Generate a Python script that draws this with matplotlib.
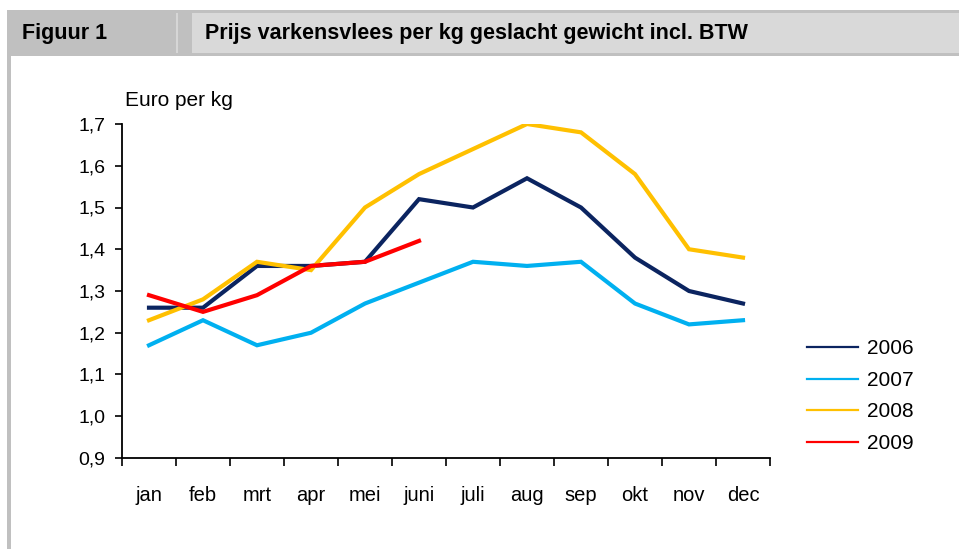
import matplotlib
matplotlib.use("Agg")
import matplotlib.pyplot as plt
from matplotlib.patches import Rectangle
import numpy as np

months = ["jan", "feb", "mrt", "apr", "mei", "juni", "juli", "aug", "sep", "okt", "nov", "dec"]
v2006 = [1.26, 1.26, 1.36, 1.36, 1.37, 1.52, 1.50, 1.57, 1.50, 1.38, 1.30, 1.27]
v2007 = [1.17, 1.23, 1.17, 1.20, 1.27, 1.32, 1.37, 1.36, 1.37, 1.27, 1.22, 1.23]
v2008 = [1.23, 1.28, 1.37, 1.35, 1.50, 1.58, 1.64, 1.70, 1.68, 1.58, 1.40, 1.38]
v2009 = [1.29, 1.25, 1.29, 1.36, 1.37, 1.42]
series = [("2006", v2006, "#0b2460"), ("2007", v2007, "#00b0f0"),
          ("2008", v2008, "#ffc000"), ("2009", v2009, "#ff0000")]
yticks = [0.9, 1.0, 1.1, 1.2, 1.3, 1.4, 1.5, 1.6, 1.7]

plt.rcParams['font.family'] = ['Liberation Sans', 'DejaVu Sans']

W, H = 959, 549
fig = plt.figure(figsize=(W / 100, H / 100), dpi=100)

# background / header in pixel coordinates
bg = fig.add_axes([0, 0, 1, 1])
bg.set_xlim(0, W)
bg.set_ylim(H, 0)
bg.set_axis_off()
bg.add_patch(Rectangle((7, 10), W - 7, 46, facecolor="#c0c0c0", edgecolor="none"))
bg.add_patch(Rectangle((192, 13), W - 192, 40, facecolor="#d9d9d9", edgecolor="none"))
bg.add_patch(Rectangle((176, 13), 1.5, 40, facecolor="#d6d6d6", edgecolor="none"))
bg.add_patch(Rectangle((7, 56), 4, H - 56, facecolor="#c0c0c0", edgecolor="none"))
bg.text(22, 33, "Figuur 1", fontsize=15.5, fontweight="bold",
        va="center", ha="left")
bg.text(205, 33, "Prijs varkensvlees per kg geslacht gewicht incl. BTW", fontsize=15.5,
        fontweight="bold", va="center", ha="left")
bg.text(125, 100, "Euro per kg", fontsize=15, va="center", ha="left")

ax = fig.add_axes([122 / W, 1 - 458 / H, (770 - 122) / W, (458 - 124) / H])
x = np.arange(len(months))
handles = []
for name, vals, col in series:
    h, = ax.plot(x[:len(vals)], vals, color=col, lw=3, label=name, solid_joinstyle="miter")
    handles.append(h)

ax.set_xlim(-0.5, len(months) - 0.5)
ax.set_ylim(0.9, 1.7)
ax.set_yticks(yticks)
ax.set_yticklabels([f"{t:.1f}".replace(".", ",") for t in yticks], fontsize=14)
ax.set_xticks(x)
ax.set_xticklabels(months, fontsize=14.5)
ax.set_xticks(np.arange(-0.5, len(months)), minor=True)
ax.tick_params(axis="x", which="major", length=0, pad=20)
ax.tick_params(axis="x", which="minor", length=6, width=1.2, direction="out")
ax.tick_params(axis="y", length=5, width=1.2, direction="out", pad=7)
for s in ["top", "right"]:
    ax.spines[s].set_visible(False)
ax.spines["left"].set_linewidth(1.3)
ax.spines["bottom"].set_linewidth(1.3)
ax.patch.set_alpha(0)

fig.legend(handles=handles, loc="upper left", bbox_to_anchor=(799 / W, 1 - 331 / H),
           frameon=False, fontsize=15, handlelength=2.45, handletextpad=0.4,
           labelspacing=0.6, borderaxespad=0)
for lh in fig.legends[0].get_lines():
    lh.set_linewidth(1.6)

fig.savefig("out.png", dpi=100)
